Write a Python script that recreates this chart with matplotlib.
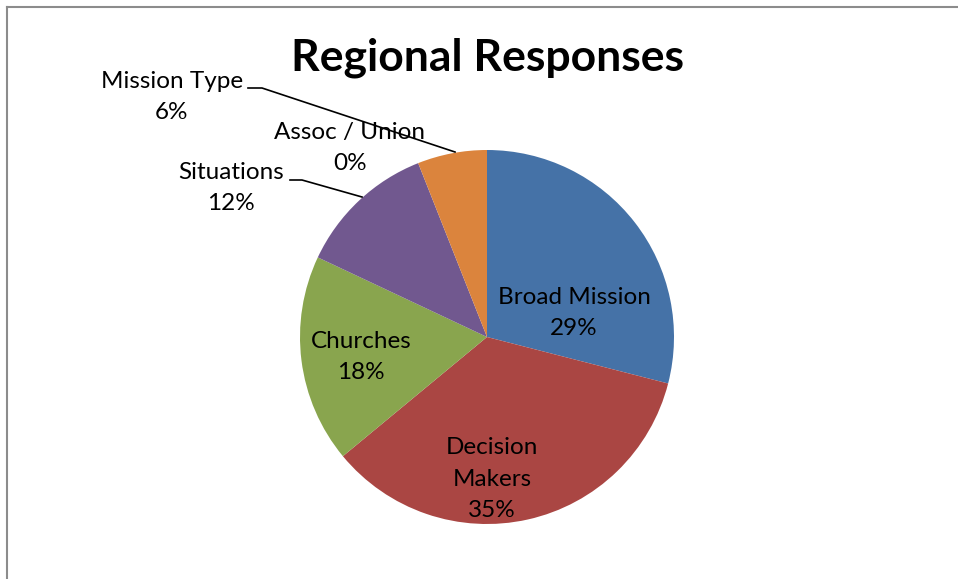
import matplotlib
matplotlib.use("Agg")
import matplotlib.pyplot as plt
from matplotlib.lines import Line2D

categories = ["Broad Mission", "Decision Makers", "Churches", "Situations", "Assoc / Union", "Mission Type"]
values = [29, 35, 18, 12, 0, 6]
colors = ["#4572A7", "#AA4643", "#89A54E", "#71588F", "#4198AF", "#DB843D"]
inner_labels = ["Broad Mission\n29%", "Decision\nMakers\n35%", "Churches\n18%"]

W, H = 958, 579
fig = plt.figure(figsize=(W / 100, H / 100), dpi=100)
fig.patch.set_facecolor("white")

FONT = ["Lato", "DejaVu Sans"]

# outer border (gray), top and left visible
fig.add_artist(Line2D([7 / W, 1.0], [1 - 7 / H, 1 - 7 / H], transform=fig.transFigure, color="#8c8c8c", lw=1.5))
fig.add_artist(Line2D([7 / W, 7 / W], [0.0, 1 - 7 / H], transform=fig.transFigure, color="#8c8c8c", lw=1.5))

cx, cy, r = 487, 337, 187
ax = fig.add_axes([(cx - r) / W, (H - cy - r) / H, 2 * r / W, 2 * r / H])

ax.pie(values, colors=colors, startangle=90, counterclock=False, radius=1,
       wedgeprops=dict(linewidth=0), normalize=True)
ax.set_xlim(-1, 1)
ax.set_ylim(-1, 1)
ax.set_aspect("equal")
ax.axis("off")

def d(px, py):
    return ((px - cx) / r, (cy - py) / r)

fs = 17.5
ls = 1.62
kw = dict(ha="center", va="center", fontsize=fs, family=FONT, linespacing=ls, clip_on=False)
ax.text(*d(574, 313), inner_labels[0], **kw)
ax.text(*d(492, 479), inner_labels[1], **kw)
ax.text(*d(361, 357), inner_labels[2], **kw)

# outer labels
ax.text(*d(172, 97), f"{categories[5]}\n{values[5]}%", **kw)
ax.text(*d(350, 148), f"{categories[4]}\n{values[4]}%", **kw)
ax.text(*d(231, 188), f"{categories[3]}\n{values[3]}%", **kw)

# leader lines
for pts in ([(248, 88), (262, 88), (455, 152)], [(290, 180), (302, 180), (362, 197)]):
    xs = [d(*p)[0] for p in pts]
    ys = [d(*p)[1] for p in pts]
    ax.plot(xs, ys, color="black", lw=1.2, clip_on=False)

fig.text(487 / W, 1 - 58 / H, "Regional Responses", ha="center", va="center",
         fontsize=32, fontweight="bold", family=FONT)

fig.savefig("out.png", dpi=100)
